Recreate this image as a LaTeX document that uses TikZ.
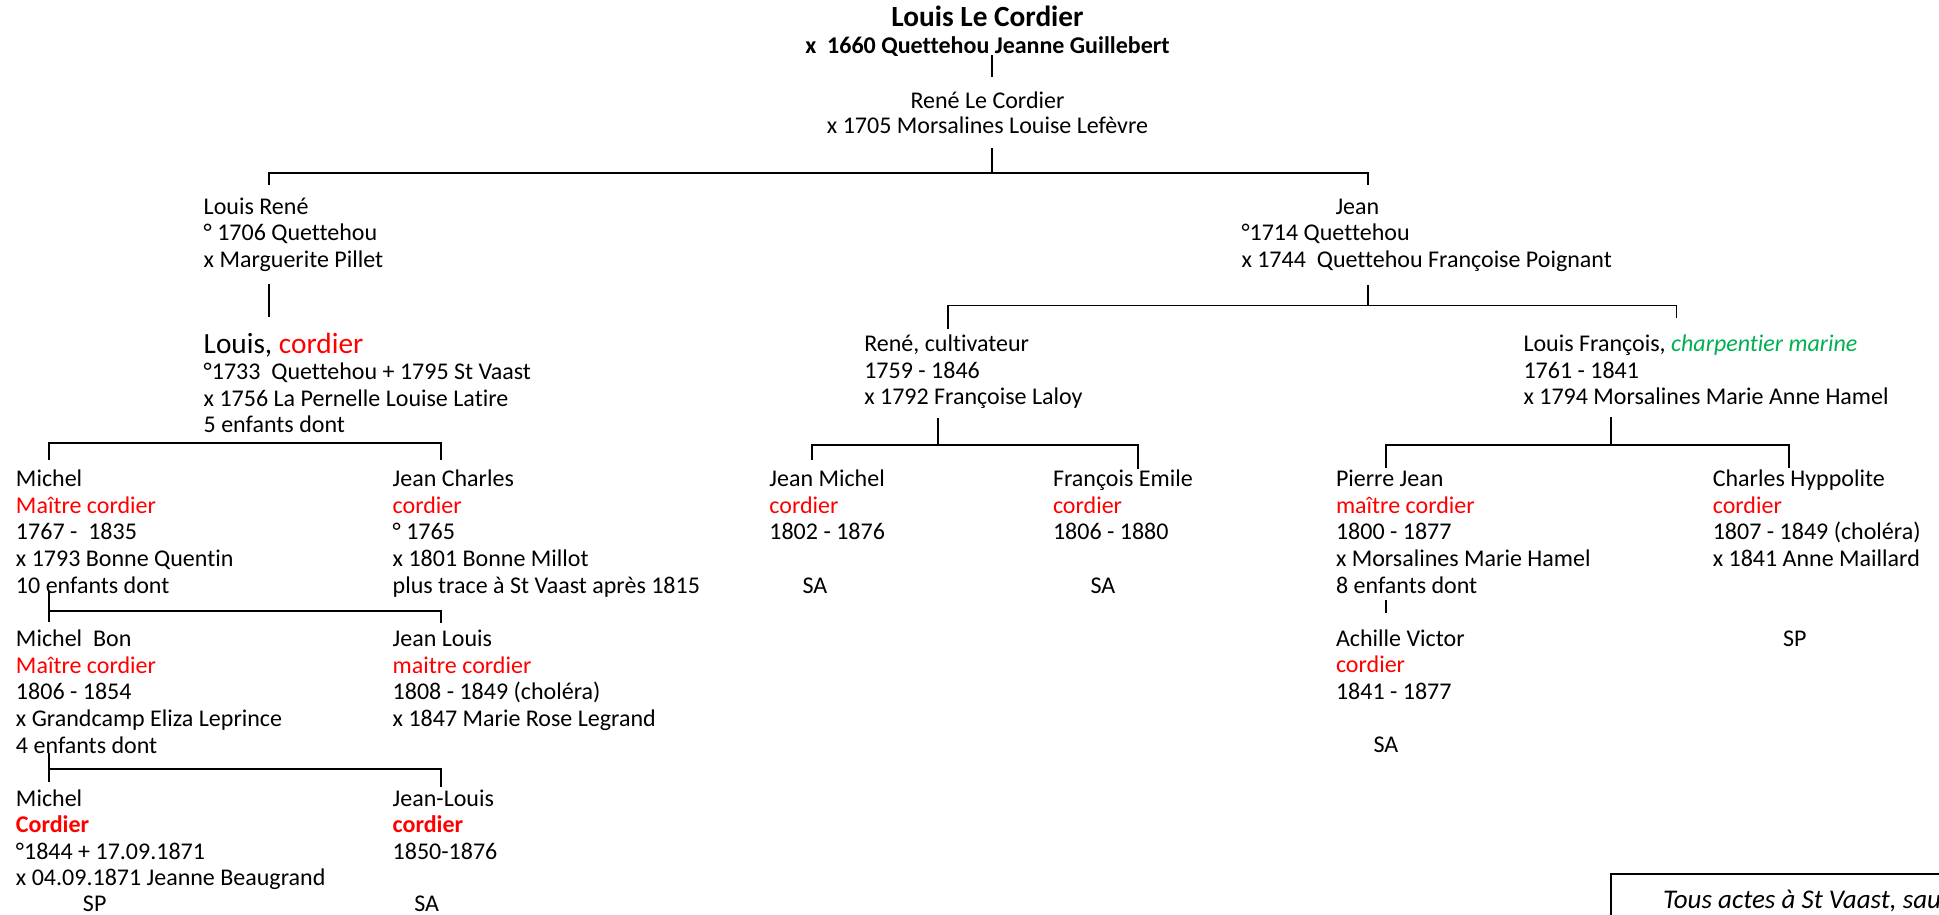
\documentclass[tikz,border=0pt]{standalone}
\usepackage{fontspec}
\setmainfont{Carlito}[Ligatures={NoCommon,NoContextual}]
\definecolor{rouge}{RGB}{255,0,0}
\definecolor{vert}{RGB}{0,176,80}
\newcommand{\lignes}[1]{\begin{tabular}[t]{@{}l@{}}#1\end{tabular}}
\newcommand{\lignesc}[1]{\begin{tabular}[t]{@{}c@{}}#1\end{tabular}}
\newcommand{\metier}[1]{\textcolor{rouge}{#1}}
\tikzset{
  person/.style={anchor=base west, inner sep=0pt, outer sep=0pt, font=\fontsize{24}{26.6}\selectfont},
  centered/.style={anchor=base, inner sep=0pt, outer sep=0pt, font=\fontsize{24}{26.6}\selectfont},
  link/.style={line width=1.7pt, line join=miter},
  notebox/.style={line width=1.4pt}
}
\begin{document}
\begin{tikzpicture}[x=1pt,y=-1pt]
\useasboundingbox (0,0) rectangle (1939,915);
\fill[white] (0,0) rectangle (1939,915);

% ---- people ----
\node[centered] (louisLC) at (987.5,26.7) {\lignesc{{\fontsize{29.3}{30}\selectfont\bfseries Louis Le Cordier}\\ {\bfseries x~ 1660 Quettehou Jeanne Guillebert}}};
\node[centered, font=\fontsize{24}{25}\selectfont] (rene0) at (987.5,108.3) {\lignesc{René Le Cordier\\ x 1705 Morsalines Louise Lefèvre}};

\node[person] (louisrene) at (203.7,214) {\lignes{Louis René\\ ° 1706 Quettehou\\ x Marguerite Pillet}};
\node[person] (jean) at (1241.5,214) {\lignes{\hspace*{94pt}Jean\\ °1714 Quettehou\\ x 1744~ Quettehou Françoise Poignant}};

\node[person] (louis) at (203.7,353) {\lignes{{\fontsize{29.3}{30}\selectfont Louis, \metier{cordier}}\\ °1733~ Quettehou + 1795 St Vaast\\ x 1756 La Pernelle Louise Latire\\ 5 enfants dont}};
\node[person] (renec) at (864.3,351.7) {\lignes{René, cultivateur\\ 1759 - 1846\\ x 1792 Françoise Laloy}};
\node[person] (louisf) at (1523.5,351.7) {\lignes{Louis François, \textcolor{vert}{\itshape charpentier marine}\\ 1761 - 1841\\ x 1794 Morsalines Marie Anne Hamel}};

\node[person] (michel) at (16,486.7) {\lignes{Michel\\ \metier{Maître cordier}\\ 1767 -~ 1835\\ x 1793 Bonne Quentin\\ 10 enfants dont}};
\node[person] (jeancharles) at (392.7,486.7) {\lignes{Jean Charles\\ \metier{cordier}\\ ° 1765\\ x 1801 Bonne Millot\\ plus trace à St Vaast après 1815}};
\node[person] (jeanmichel) at (769.4,486.7) {\lignes{Jean Michel\\ \metier{cordier}\\ 1802 - 1876}};
\node[person] (francoisemile) at (1053,486.7) {\lignes{François Emile\\ \metier{cordier}\\ 1806 - 1880}};
\node[person] (pierrejean) at (1336,486.7) {\lignes{Pierre Jean\\ \metier{maître cordier}\\ 1800 - 1877\\ x Morsalines Marie Hamel\\ 8 enfants dont}};
\node[person] (charles) at (1712.8,486.7) {\lignes{Charles Hyppolite\\ \metier{cordier}\\ 1807 - 1849 (choléra)\\ x 1841 Anne Maillard}};

\node[person] (michelbon) at (16,646.7) {\lignes{Michel~ Bon\\ \metier{Maître cordier}\\ 1806 - 1854\\ x Grandcamp Eliza Leprince\\ 4 enfants dont}};
\node[person] (jeanlouis) at (392.7,646.7) {\lignes{Jean Louis\\ \metier{maitre cordier}\\ 1808 - 1849 (choléra)\\ x 1847 Marie Rose Legrand}};
\node[person] (achille) at (1336,646) {\lignes{Achille Victor\\ \metier{cordier}\\ 1841 - 1877}};

\node[person] (michel3) at (16,806) {\lignes{Michel\\ \metier{\bfseries Cordier}\\ °1844 + 17.09.1871\\ x 04.09.1871 Jeanne Beaugrand}};
\node[person] (jeanlouis3) at (392.7,806) {\lignes{Jean-Louis\\ \metier{\bfseries cordier}\\ 1850-1876}};

% ---- SA / SP ----
\node[centered] (sajm) at (815,593) {SA};
\node[centered] (safe) at (1103,593) {SA};
\node[centered] (spch) at (1794.7,646) {SP};
\node[centered] (saav) at (1386,752.7) {SA};
\node[centered] (spm3) at (94.7,911.7) {SP};
\node[centered] (sajl) at (426.7,911.7) {SA};

% ---- connector coordinates ----
\coordinate (t1) at (991.7,55);    \coordinate (t2) at (991.7,76.7);
\coordinate (r1) at (991.7,148.3); \coordinate (r2) at (991.7,172.7);
\coordinate (h1l) at (269,172.7);  \coordinate (h1r) at (1367.7,172.7);
\coordinate (h1ld) at (269,185);   \coordinate (h1rd) at (1367.7,185);
\coordinate (lr1) at (269,284);    \coordinate (lr2) at (269,317);
\coordinate (j1) at (1367.7,285);  \coordinate (j2) at (1367.7,305.5);
\coordinate (h2l) at (947.7,305.5); \coordinate (h2r) at (1676.6,305.5);
\coordinate (h2ld) at (947.7,329.3); \coordinate (h2rd) at (1676.6,318);
\coordinate (rc1) at (938.3,418);  \coordinate (rc2) at (938.3,445);
\coordinate (h3l) at (811.8,445);  \coordinate (h3r) at (1137.7,445);
\coordinate (h3ld) at (811.8,460); \coordinate (h3rd) at (1137.7,469);
\coordinate (lf1) at (1611.3,417); \coordinate (lf2) at (1611.3,445);
\coordinate (h4l) at (1385.7,445); \coordinate (h4r) at (1789,445);
\coordinate (h4ld) at (1385.7,468.3); \coordinate (h4rd) at (1789,468.3);
\coordinate (h5l) at (49.3,443.3); \coordinate (h5r) at (441,443.3);
\coordinate (h5ld) at (49.3,460);  \coordinate (h5rd) at (441,460);
\coordinate (m1) at (49.3,590.7);  \coordinate (m2) at (49.3,621.7);
\coordinate (h6l) at (49.3,610.7); \coordinate (h6r) at (441,610.7); \coordinate (h6rd) at (441,623);
\coordinate (pj1) at (1385.7,600); \coordinate (pj2) at (1385.7,612.7);
\coordinate (mb1) at (49.3,752.7); \coordinate (mb2) at (49.3,781.7);
\coordinate (h7l) at (49.3,769.3); \coordinate (h7r) at (441,769.3); \coordinate (h7rd) at (441,787);

% ---- connectors ----
\draw[link] (t1) -- (t2);
\draw[link] (r1) -- (r2);
\draw[link] (h1ld) -- (h1l) -- (h1r) -- (h1rd);
\draw[link] (lr1) -- (lr2);
\draw[link] (j1) -- (j2);
\draw[link] (h2ld) -- (h2l) -- (h2r) -- (h2rd);
\draw[link] (rc1) -- (rc2);
\draw[link] (h3ld) -- (h3l) -- (h3r) -- (h3rd);
\draw[link] (lf1) -- (lf2);
\draw[link] (h4ld) -- (h4l) -- (h4r) -- (h4rd);
\draw[link] (h5ld) -- (h5l) -- (h5r) -- (h5rd);
\draw[link] (m1) -- (m2);
\draw[link] (h6l) -- (h6r) -- (h6rd);
\draw[link] (pj1) -- (pj2);
\draw[link] (mb1) -- (mb2);
\draw[link] (h7l) -- (h7r) -- (h7rd);

% ---- note box (cut by the page edge) ----
\begin{scope}
\clip (0,0) rectangle (1939,915);
\draw[notebox] (1611,980) -- (1611,874) -- (2050,874);
\node[person, font=\fontsize{27}{28}\selectfont\itshape] (note) at (1663,908) {Tous actes à St Vaast, sauf};
\end{scope}
\end{tikzpicture}
\end{document}
